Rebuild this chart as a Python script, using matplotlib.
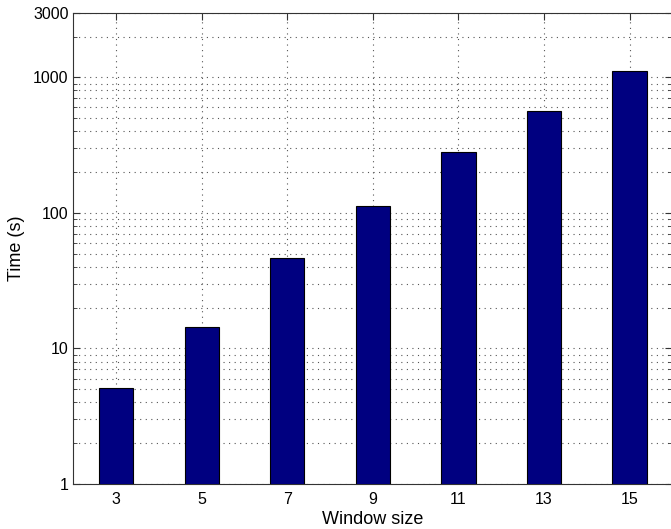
import matplotlib
matplotlib.use('Agg')
import matplotlib.pyplot as plt
from matplotlib.ticker import FixedLocator, NullFormatter, LogLocator

plt.rcParams['font.family'] = ['Liberation Sans', 'DejaVu Sans']

window_size = [3, 5, 7, 9, 11, 13, 15]
time_s = [5.08, 14.5, 46.5, 112, 282, 566, 1110]
ytick_values = [1, 10, 100, 1000, 3000]
ytick_labels = ['1', '10', '100', '1000', '3000']

fig = plt.figure(figsize=(6.71, 5.29), dpi=100)
ax = fig.add_axes([0.1093, 0.0851, 0.8927, 0.8909])

ax.bar(window_size, time_s, width=0.8, color='#000080', edgecolor='black',
       linewidth=0.8, zorder=3)

ax.set_yscale('log')
ax.set_xlim(2, 16)
ax.set_ylim(1, 3000)

ax.set_xticks(window_size)
ax.set_xticklabels([str(v) for v in window_size])
ax.yaxis.set_major_locator(FixedLocator(ytick_values))
ax.set_yticklabels(ytick_labels)
ax.yaxis.set_minor_locator(LogLocator(base=10, subs=range(2, 10)))
ax.yaxis.set_minor_formatter(NullFormatter())

dots = (0, (1, 4))
ax.grid(True, which='major', axis='both', linestyle=dots, color='#555555',
        linewidth=0.8, zorder=0)
ax.grid(True, which='minor', axis='y', linestyle=dots, color='#555555',
        linewidth=0.8, zorder=0)

ax.tick_params(which='both', direction='in', top=True, right=True,
               labelsize=11.5, color='#333333')
ax.tick_params(which='major', length=5)
ax.tick_params(which='minor', length=3)
ax.tick_params(axis='x', pad=5.5)

for s in ax.spines.values():
    s.set_color('#333333')
    s.set_linewidth(0.8)

ax.set_xlabel('Window size', fontsize=13, labelpad=3)
ax.set_ylabel('Time (s)', fontsize=13, labelpad=6)

fig.savefig('out.png', dpi=100)
